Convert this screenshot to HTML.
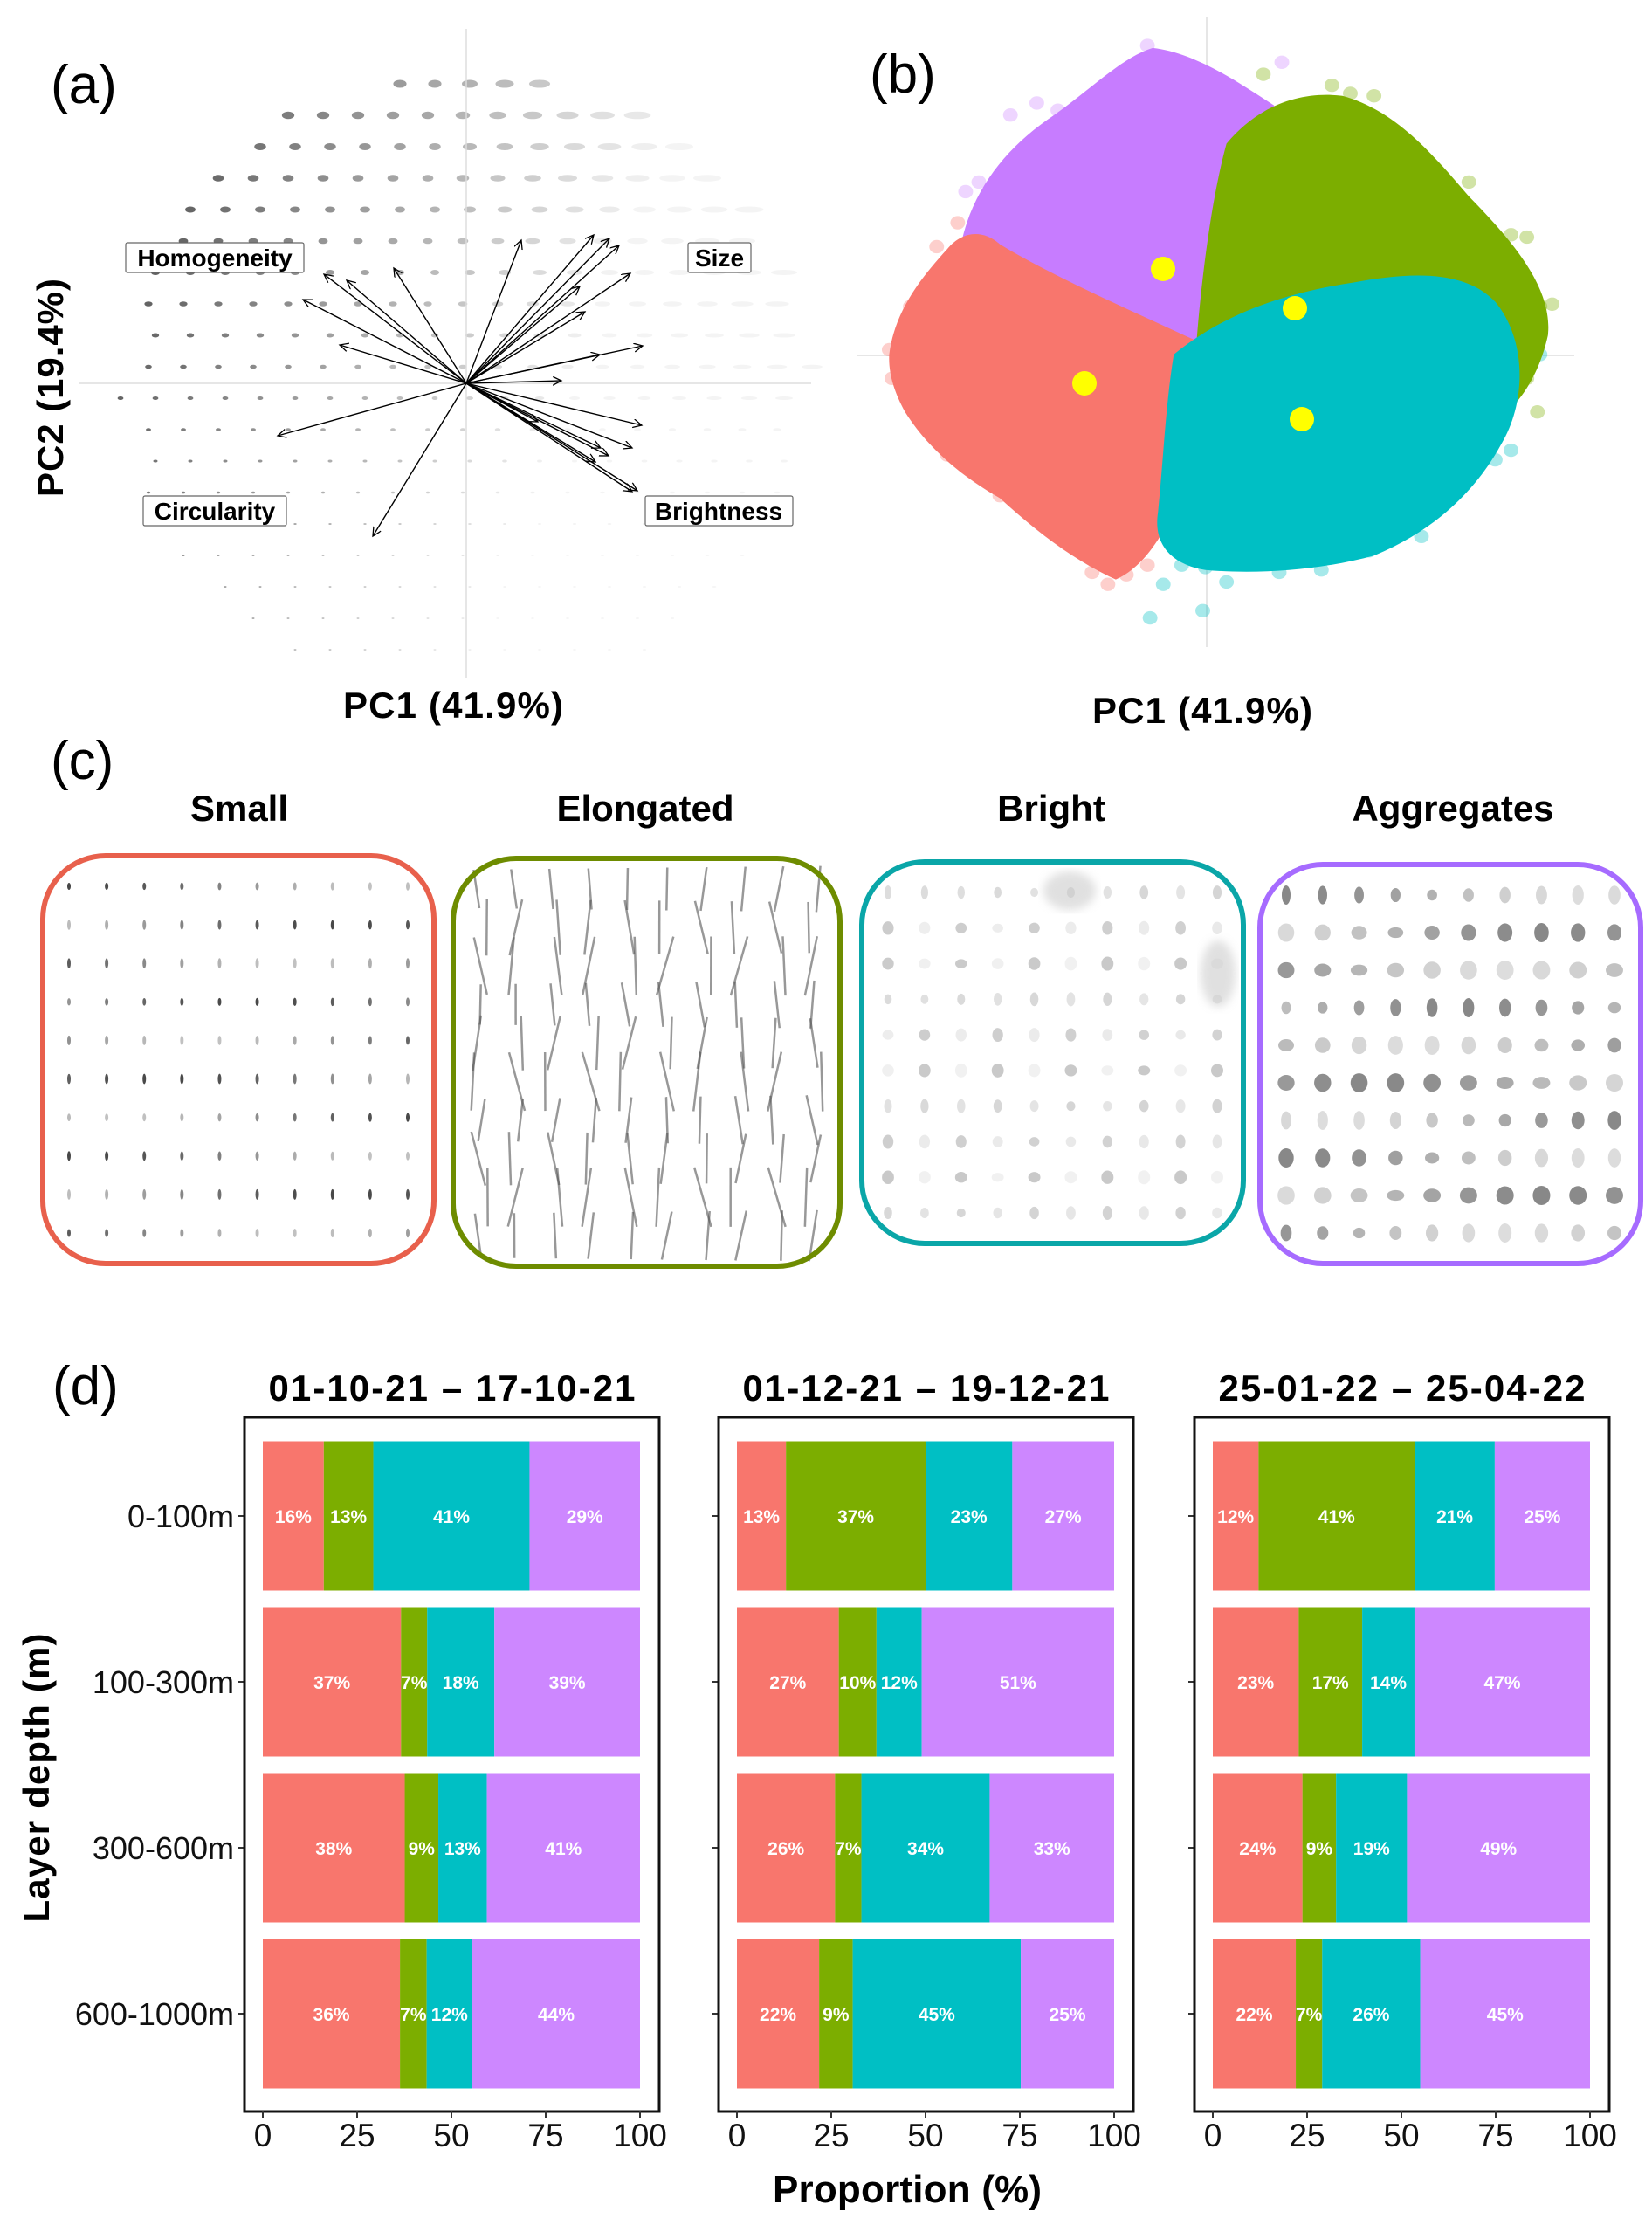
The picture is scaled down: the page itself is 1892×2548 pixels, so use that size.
<!DOCTYPE html>
<html><head><meta charset="utf-8">
<style>
html,body{margin:0;padding:0;background:#fff;}
svg{display:block;font-family:"Liberation Sans",sans-serif;}
</style></head>
<body>
<svg id="fig" width="1892" height="2548" viewBox="0 0 1892 2548" xmlns="http://www.w3.org/2000/svg">
<defs>
<marker id="ah" markerWidth="12" markerHeight="12" refX="10" refY="5" orient="auto" markerUnits="userSpaceOnUse">
<path d="M0,0 L10,5 L0,10" fill="none" stroke="#000" stroke-width="1.3"/>
</marker>
<filter id="soft" x="-10%" y="-10%" width="120%" height="120%"><feGaussianBlur stdDeviation="5"/></filter>
</defs>

<!-- Panel a -->
<g id="panelA">
<text x="58" y="118" font-size="62">(a)</text>
<g id="aParticles"></g>
<line x1="90" y1="439" x2="929" y2="439" stroke="#ddd" stroke-width="1.5"/>
<line x1="534" y1="33" x2="534" y2="776" stroke="#ddd" stroke-width="1.5"/>
<g id="aArrows"></g>
<g><rect x="144" y="278" width="204" height="34" fill="#fff" stroke="#666" stroke-width="1.2" rx="2"/><text x="246" y="305" font-size="28" font-weight="bold" text-anchor="middle">Homogeneity</text></g>
<g><rect x="788" y="278" width="72" height="34" fill="#fff" stroke="#666" stroke-width="1.2" rx="2"/><text x="824" y="305" font-size="28" font-weight="bold" text-anchor="middle">Size</text></g>
<g><rect x="164" y="568" width="164" height="34" fill="#fff" stroke="#666" stroke-width="1.2" rx="2"/><text x="246" y="595" font-size="28" font-weight="bold" text-anchor="middle">Circularity</text></g>
<g><rect x="739" y="568" width="169" height="34" fill="#fff" stroke="#666" stroke-width="1.2" rx="2"/><text x="823" y="595" font-size="28" font-weight="bold" text-anchor="middle">Brightness</text></g>
<text x="519" y="822" font-size="42" font-weight="bold" text-anchor="middle" textLength="252">PC1 (41.9%)</text>
<text transform="translate(72,444) rotate(-90)" font-size="42" font-weight="bold" text-anchor="middle" textLength="250">PC2 (19.4%)</text>
</g>

<!-- Panel b -->
<g id="panelB">
<text x="996" y="106" font-size="62">(b)</text>
<line x1="982" y1="407" x2="1803" y2="407" stroke="#ddd" stroke-width="1.5"/>
<line x1="1382" y1="19" x2="1382" y2="741" stroke="#ddd" stroke-width="1.5"/>
<g transform="translate(946,0) scale(0.6035,0.5485)">
<g id="bFringe"></g>
<path fill="#C77CFF" d="M250,560 C260,420 330,320 420,250 C500,190 560,120 620,100 C700,110 780,170 850,220 C880,320 860,450 820,560 C780,650 720,720 680,740 L330,620 Z"/>
<path fill="#7CAE00" d="M760,300 C820,220 900,190 980,200 C1080,230 1150,320 1220,410 C1300,500 1380,600 1370,700 C1350,800 1300,870 1240,900 L700,760 C710,600 730,420 760,300 Z"/>
<path fill="#F8766D" d="M120,740 C130,650 180,580 230,520 C260,480 300,480 330,510 C420,570 560,640 700,710 C690,840 670,960 650,1090 C620,1150 590,1190 550,1210 C470,1170 400,1110 330,1040 C250,990 190,930 150,860 C130,820 118,780 120,740 Z"/>
<path fill="#00BFC4" d="M660,740 C760,650 880,610 1000,590 C1100,570 1210,560 1270,630 C1330,710 1330,840 1280,930 C1230,1030 1150,1110 1040,1160 C940,1190 820,1200 720,1190 C660,1180 620,1140 630,1070 C640,960 645,840 660,740 Z"/>
</g>
<g id="bCentroids"></g>
<text x="1377" y="828" font-size="42" font-weight="bold" text-anchor="middle" textLength="252">PC1 (41.9%)</text>
</g>

<!-- Panel c -->
<g id="panelC">
<text x="58" y="892" font-size="62">(c)</text>
<g id="cBoxes"></g>
</g>

<!-- Panel d -->
<g id="panelD">
<text x="60" y="1608" font-size="62">(d)</text>
<text transform="translate(56,2036) rotate(-90)" font-size="42" font-weight="bold" text-anchor="middle" textLength="331">Layer depth (m)</text>
<text x="1039" y="2522" font-size="44" font-weight="bold" text-anchor="middle" textLength="308">Proportion (%)</text>
<g id="bars"></g>
</g>
</svg>

<script>
const NS = 'http://www.w3.org/2000/svg';
function mk(tag, attrs, parent) {
  const e = document.createElementNS(NS, tag);
  for (const k in attrs) e.setAttribute(k, attrs[k]);
  if (parent) parent.appendChild(e);
  return e;
}

/* ---------- Panel d data ---------- */
const periods = ['01-10-21 – 17-10-21', '01-12-21 – 19-12-21', '25-01-22 – 25-04-22'];
const depths = ['0-100m', '100-300m', '300-600m', '600-1000m'];
const clusters = ['Small', 'Elongated', 'Bright', 'Aggregates'];
const xTicks = [0, 25, 50, 75, 100];
const smallPct      = [[16, 37, 38, 36], [13, 27, 26, 22], [12, 23, 24, 22]];
const elongatedPct  = [[13, 7, 9, 7],    [37, 10, 7, 9],   [41, 17, 9, 7]];
const brightPct     = [[41, 18, 13, 12], [23, 12, 34, 45], [21, 14, 19, 26]];
const aggregatesPct = [[29, 39, 41, 44], [27, 51, 33, 25], [25, 47, 49, 45]];

const colors = ['#F8766D', '#7CAE00', '#00BFC4', '#CD87FF'];
const frameLefts = [280, 823, 1368];
const frameW = 475;
const frameTop = 1623, frameBottom = 2418;
function xScale(p, v) { return frameLefts[p] + 21 + v / 100 * 432; }
function yCenter(i) { return 1736 + i * 190; }
const barH = 171;

const barsG = document.getElementById('bars');
periods.forEach((per, p) => {
  const g = mk('g', {}, barsG);
  
  
  const cx = frameLefts[p] + frameW / 2;
  const t = mk('text', {x: cx, y: 1604, 'font-size': 42, 'font-weight': 'bold', 'text-anchor': 'middle', textLength: 420}, g);
  t.textContent = per;
  
  
  depths.forEach((d, i) => {
    const vals = [smallPct[p][i], elongatedPct[p][i], brightPct[p][i], aggregatesPct[p][i]];
    const tot = vals.reduce((a, b) => a + b, 0);
    let cum = 0;
    vals.forEach((v, k) => {
      const x0 = xScale(p, cum / tot * 100);
      cum += v;
      const x1 = xScale(p, cum / tot * 100);
      const r = mk('rect', {x: x0, y: yCenter(i) - barH / 2, width: x1 - x0, height: barH, fill: colors[k]}, g);
      
      
      const lt = mk('text', {x: (x0 + x1) / 2, y: yCenter(i) + 8, 'font-size': 21, 'font-weight': 'bold', fill: '#fff', 'text-anchor': 'middle'}, g);
      lt.textContent = v + '%';
      
      
    });
    const tk = mk('line', {x1: frameLefts[p] - 7, x2: frameLefts[p], y1: yCenter(i), y2: yCenter(i), stroke: '#333', 'stroke-width': 2}, g);
    
    
    if (p === 0) {
      const yl = mk('text', {x: 268, y: yCenter(i) + 13, 'font-size': 36, 'text-anchor': 'end', fill: '#111'}, g);
      yl.textContent = d;
      
      
    }
  });
  const fr = mk('rect', {x: frameLefts[p], y: frameTop, width: frameW, height: frameBottom - frameTop, fill: 'none', stroke: '#111', 'stroke-width': 3}, g);
  
  
  xTicks.forEach(v => {
    const x = xScale(p, v);
    const l = mk('line', {x1: x, x2: x, y1: frameBottom, y2: frameBottom + 8, stroke: '#333', 'stroke-width': 2}, g);
    
    
    const tl = mk('text', {x: x, y: 2458, 'font-size': 37, 'text-anchor': 'middle', fill: '#111'}, g);
    tl.textContent = v;
    
    
  });
});

/* ---------- Panel a: loadings (pixel offsets from biplot origin) ---------- */
const loadX = [63,146,164,175,188,130,136,-163,-137,-83,-187,-145,153,202,109,-216,201,190,154,163,148,196,190,-107,82];
const loadY = [164,170,166,158,126,111,82,125,118,132,96,44,33,43,3,-60,-48,-74,-74,-83,-90,-123,-124,-175,-44];
const ax0 = 534, ay0 = 439;
const aArr = document.getElementById('aArrows');
loadX.forEach((lx, i) => {
  const ln = mk('line', {x1: ax0, y1: ay0, x2: ax0 + lx, y2: ay0 - loadY[i], stroke: '#000', 'stroke-width': 1.4, 'marker-end': 'url(#ah)'}, aArr);
  
  
});

/* particle thumbnails (decorative grid) */
const pG = document.getElementById('aParticles');
for (let r = 0; r < 20; r++) {
  for (let c = 0; c < 22; c++) {
    const x = 90 + c * 40 + (r % 2) * 8;
    const y = 60 + r * 36;
    const dx = x - 534, dy = (y - 439) * 1.12;
    if (Math.sqrt(dx * dx + dy * dy) > 400) continue;
    if (y < 70 && x < 440) continue;
    const size = Math.max(1.5, 8 - r * 0.42);
    const dark = Math.max(0.05, Math.min(0.8, 0.85 - (x - 150) / 800 - r * 0.015));
    const elong = 1 + Math.max(0, (x - 500) / 200) * (r < 12 ? 1 : 0.3);
    const e = mk('ellipse', {cx: x, cy: y, rx: size * elong, ry: size * 0.6, fill: '#222', opacity: dark.toFixed(2)}, pG);
    
    
  }
}

/* ---------- Panel b centroids ---------- */
const centroidPC1 = [1332, 1483, 1242, 1491];
const centroidPC2 = [308, 353, 439, 480];
const bC = document.getElementById('bCentroids');
centroidPC1.forEach((x, i) => {
  const c = mk('circle', {cx: x, cy: centroidPC2[i], r: 14, fill: '#FFFF00'}, bC);
  
  
});
const fr = document.getElementById('bFringe');
const fringe = [
 [610,95,3],[625,130,3],[655,125,3],[535,178,3],[600,195,3],[665,210,3],[440,230,3],[520,240,3],[865,130,3],[830,155,1],[960,178,1],[995,195,1],[1040,200,1],
 [975,222,1],[1025,240,1],[1045,258,1],[1080,300,1],[1130,410,1],[1160,380,1],[1220,380,1],[1300,490,1],[1330,495,1],[1340,620,1],[1355,640,1],[1378,635,1],
 [1330,790,1],[1350,860,1],[1300,690,2],[1355,740,2],[1280,880,2],[1300,940,2],[1270,960,2],[1130,1120,2],[1030,1150,2],[940,1190,2],[860,1195,2],[760,1215,2],
 [720,1185,2],[675,1180,2],[640,1220,2],[615,1290,2],[715,1275,2],[535,1220,0],[505,1195,0],[570,1200,0],[610,1180,0],[170,860,0],[125,790,0],[120,730,0],
 [160,640,0],[210,515,0],[250,465,0],[230,950,0],[330,1035,0],[440,1070,0],[350,240,3],[265,400,3],[290,380,3],[400,215,3]];
fringe.forEach(f => {
  const c = mk('circle', {cx: f[0], cy: f[1], r: 14, fill: colors[f[2]], opacity: 0.35}, fr);
  
  
});

/* ---------- Panel c boxes ---------- */
const cBoxX = [49, 519, 987, 1443];
const cBoxY = [980, 983, 987, 990];
const cBoxW = [448, 443, 437, 436];
const cBoxH = [467, 467, 437, 457];
const cTitleX = [274, 739, 1204, 1664];
const cStroke = ['#E8604C', '#6E8C00', '#0AA6A8', '#A66BFF'];
const cG = document.getElementById('cBoxes');
clusters.forEach((name, k) => {
  const g = mk('g', {}, cG);
  
  
  const t = mk('text', {x: cTitleX[k], y: 940, 'font-size': 42, 'font-weight': 'bold', 'text-anchor': 'middle'}, g);
  t.textContent = name;
  
  
  const bx = cBoxX[k], by = cBoxY[k], bw = cBoxW[k], bh = cBoxH[k];
  for (let r = 0; r < 10; r++) for (let c = 0; c < 10; c++) {
    const x = bx + 30 + c * (bw - 60) / 9;
    const y = by + 35 + r * (bh - 70) / 9;
    const s = Math.sin(r * 7.3 + c * 3.1), s2 = Math.cos(r * 2.7 + c * 5.9);
    let e;
    if (k === 0) {
      e = mk('ellipse', {cx: x, cy: y, rx: 2, ry: 4 + 2 * Math.abs(s), fill: '#333', opacity: 0.6 + 0.3 * s2}, g);
    } else if (k === 1) {
      const L = 22 + 12 * Math.abs(s);
      e = mk('line', {x1: x - L * 0.3 * s2, y1: y - L, x2: x + L * 0.3 * s, y2: y + L, stroke: '#555', 'stroke-width': 2.5, opacity: 0.6}, g);
    } else if (k === 2) {
      e = mk('ellipse', {cx: x, cy: y, rx: 4 + 3 * Math.abs(s), ry: 5 + 3 * Math.abs(s2), fill: '#777', opacity: 0.25 + 0.15 * s}, g);
    } else {
      e = mk('ellipse', {cx: x, cy: y, rx: 5 + 5 * Math.abs(s), ry: 6 + 5 * Math.abs(s2), fill: '#555', opacity: 0.45 + 0.25 * s2}, g);
    }
    
    
  }
  if (k === 2) {
    const b1 = mk('ellipse', {cx: 1225, cy: 1020, rx: 30, ry: 22, fill: '#ccc', opacity: 0.6, filter: 'url(#soft)'}, g);
     
    const b2 = mk('ellipse', {cx: 1395, cy: 1115, rx: 20, ry: 38, fill: '#ccc', opacity: 0.6, filter: 'url(#soft)'}, g);
     
  }
  const rr = mk('rect', {x: bx, y: by, width: bw, height: bh, rx: 72, ry: 72, fill: 'none', stroke: cStroke[k], 'stroke-width': 6}, g);
  
  
});
</script>
</body></html>
